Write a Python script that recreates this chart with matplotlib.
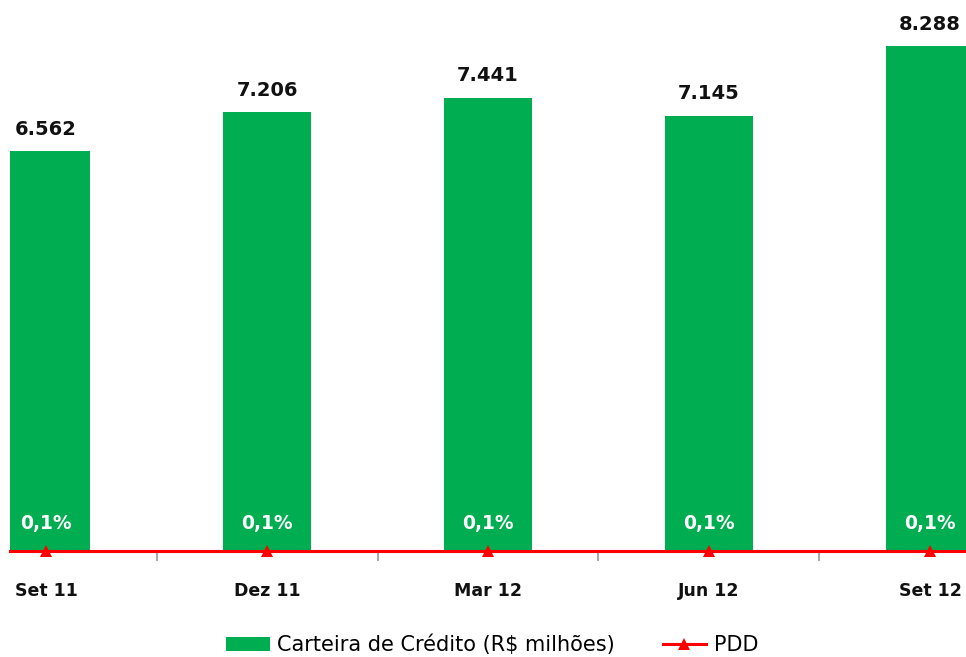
import matplotlib
matplotlib.use("Agg")
import matplotlib.pyplot as plt
from matplotlib.patches import Patch
from matplotlib.lines import Line2D
import numpy as np

categories = ["Set 11", "Dez 11", "Mar 12", "Jun 12", "Set 12"]
carteira = [6562, 7206, 7441, 7145, 8288]
carteira_labels = ["6.562", "7.206", "7.441", "7.145", "8.288"]
pdd = [0.1, 0.1, 0.1, 0.1, 0.1]
pdd_labels = ["0,1%", "0,1%", "0,1%", "0,1%", "0,1%"]

GREEN = "#00AD50"
RED = "#FF0000"
FONT = "DejaVu Sans"

W, H = 966, 657
fig = plt.figure(figsize=(W / 100, H / 100), dpi=100)
ax = fig.add_axes([10 / W, (H - 551) / H, 956 / W, 551 / H])

x = np.arange(len(categories))
ax.bar(x, carteira, width=0.4, color=GREEN, zorder=2)
ax.set_xlim(-0.163, 4.163)
ax.set_ylim(0, 9050)

for xi, v, lab in zip(x, carteira, carteira_labels):
    ax.annotate(lab, (xi, v), xytext=(0, 9), textcoords="offset points",
                ha="center", va="bottom", fontsize=14, fontweight="bold",
                family=FONT, color="#111111")

for xi, lab in zip(x, pdd_labels):
    ax.annotate(lab, (xi, 0), xytext=(0, 20), textcoords="offset points",
                ha="center", va="center", fontsize=13.5, fontweight="bold",
                family=FONT, color="white", zorder=5)

for s in ["top", "right", "left"]:
    ax.spines[s].set_visible(False)
ax.spines["bottom"].set_color("#999999")
ax.set_yticks([])
ax.set_xticks(x)
ax.set_xticklabels(categories, fontsize=12.5, fontweight="bold", family=FONT, color="#111111")
ax.tick_params(axis="x", which="major", length=0, pad=22.5)
ax.set_xticks(x[:-1] + 0.5, minor=True)
ax.tick_params(axis="x", which="minor", length=7, color="#999999", width=1.2)

ax2 = ax.twinx()
ax2.set_ylim(0.1, 5)
ax2.axis("off")
ax2.axhline(pdd[0], color=RED, lw=2.2, zorder=3, clip_on=False)
ax2.plot(x, pdd, color=RED, lw=2.2, marker="^", markersize=9,
         markeredgewidth=0, clip_on=False, zorder=4)

handles = [Patch(facecolor=GREEN, edgecolor="none"),
           Line2D([0], [0], color=RED, lw=2.2, marker="^", markersize=9, markeredgewidth=0)]
fig.legend(handles, ["Carteira de Crédito (R$ milhões)", "PDD"],
           loc="center", bbox_to_anchor=(492 / W, (H - 645) / H), ncol=2,
           frameon=False, prop={"family": FONT, "size": 15},
           handlelength=2.1, handleheight=0.7, handletextpad=0.35,
           columnspacing=2.3)

fig.savefig("out.png", dpi=100)
